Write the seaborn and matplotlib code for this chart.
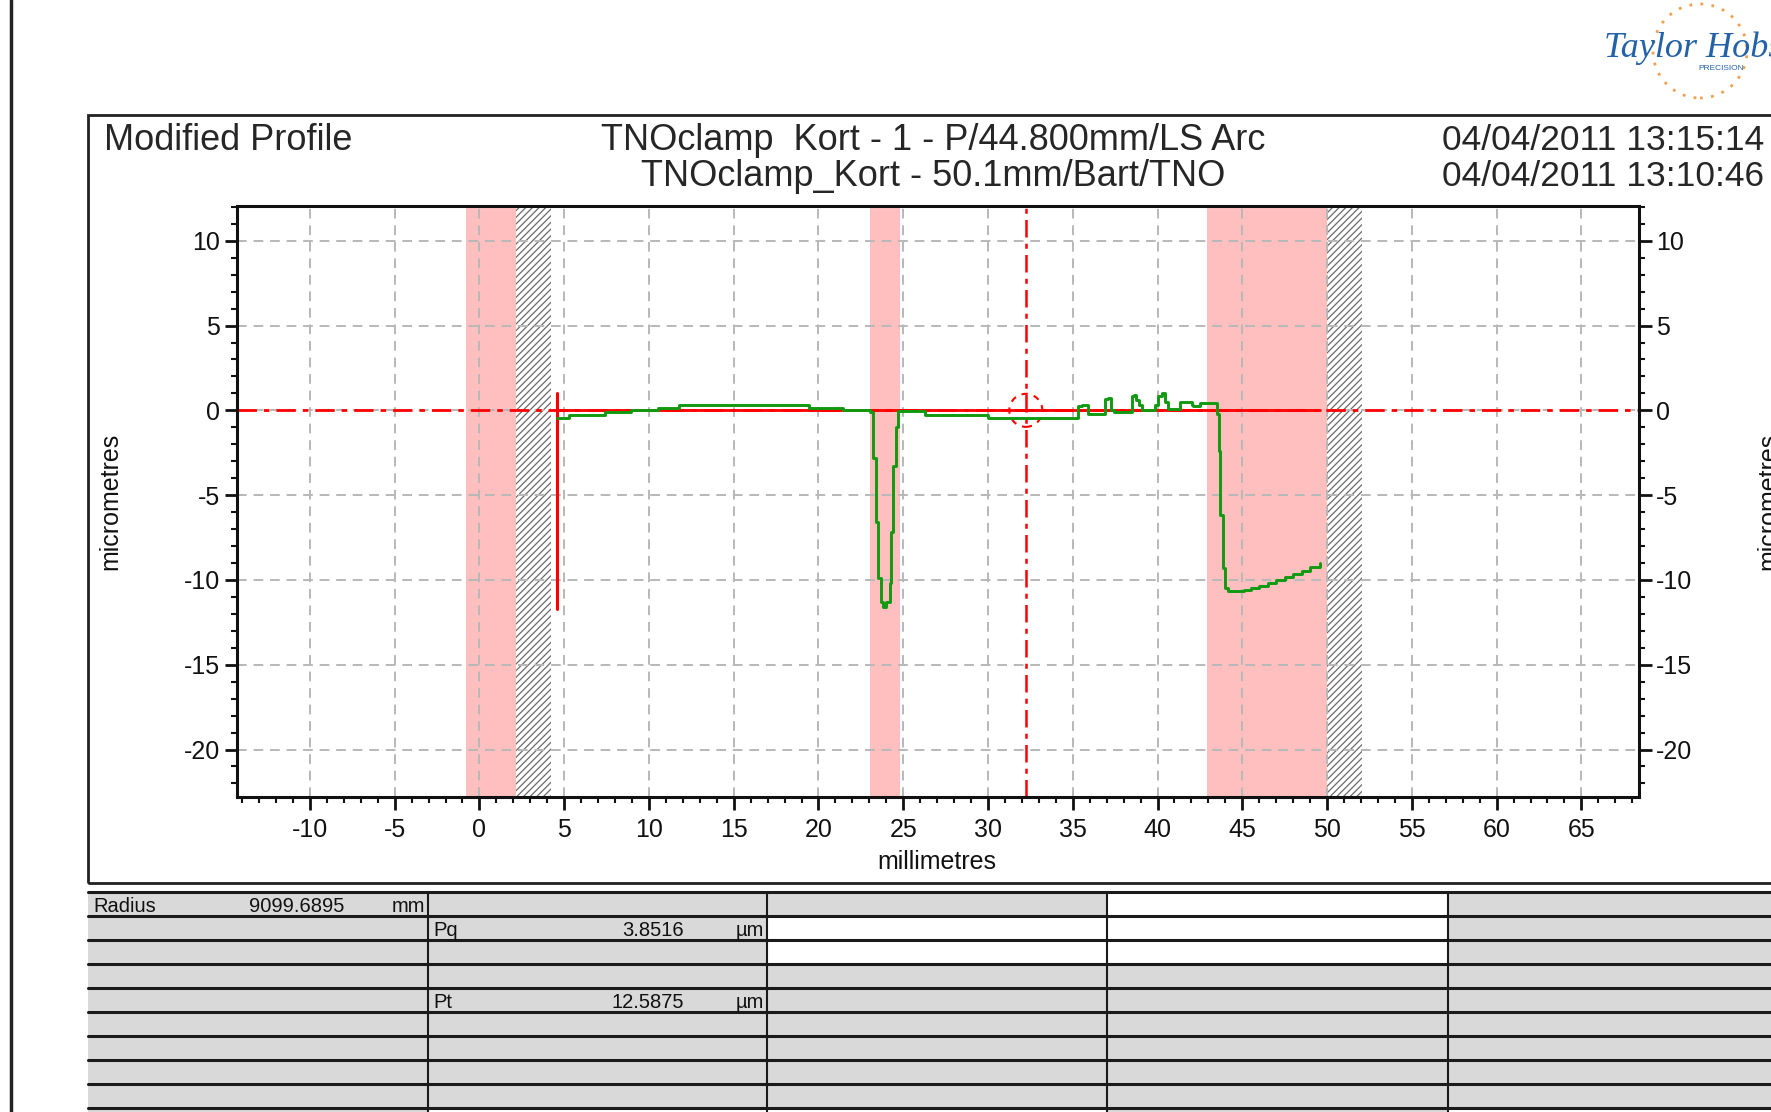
import numpy as np
import matplotlib
matplotlib.use('Agg')
import matplotlib.pyplot as plt
import matplotlib.patches as mpatches
from matplotlib.lines import Line2D
from matplotlib.ticker import MultipleLocator
import seaborn as sns

profile_x = [4.57, 5.27, 7.38, 8.95, 10.53, 11.8, 19.44, 21.45, 23.02, 23.22,
             23.38, 23.51, 23.67, 23.81, 24.0, 24.2, 24.3, 24.4, 24.56, 24.7,
             26.27, 30.0, 35.32, 35.52, 35.91, 36.9, 37.1, 37.23, 37.43, 38.47,
             38.61, 38.73, 38.93, 39.07, 39.86, 40.05, 40.25, 40.45, 40.64, 41.33,
             41.59, 42.02, 42.12, 42.52, 43.5, 43.6, 43.7, 43.86, 44.0, 44.13,
             45.08, 45.5, 46.0, 46.5, 47.0, 47.5, 48.0, 48.5, 49.0, 49.57]
profile_y = [-0.43, -0.27, -0.08, 0.0, 0.14, 0.29, 0.14, 0.0, -0.1, -2.8,
             -6.6, -9.9, -11.3, -11.6, -11.3, -10.2, -7.2, -3.3, -1.0, -0.05,
             -0.27, -0.43, 0.25, 0.32, -0.24, 0.65, 0.72, 0.05, -0.1, 0.84,
             0.88, 0.6, 0.3, 0.0, 0.3, 0.84, 1.0, 0.5, 0.1, 0.5,
             0.5, 0.33, 0.24, 0.42, -0.24, -2.4, -6.2, -9.3, -10.5, -10.65,
             -10.6, -10.5, -10.35, -10.2, -10.0, -9.85, -9.65, -9.45, -9.25, -9.0]

excluded_zones = [(-0.79, 2.17), (23.02, 24.8), (42.94, 49.98)]
hatched_zones = [(2.17, 4.23), (49.98, 52.05)]
fit_start, fit_end = 4.57, 49.6
start_marker = (-11.7, 1.04)
cursor_x = 32.23

title_left = 'Modified Profile'
title_lines = ['TNOclamp  Kort - 1 - P/44.800mm/LS Arc', 'TNOclamp_Kort - 50.1mm/Bart/TNO']
date_lines = ['04/04/2011 13:15:14', '04/04/2011 13:10:46']

param_names = ['Radius', 'Pq', 'Pt']
param_values = ['9099.6895', '3.8516', '12.5875']
param_units = ['mm', 'µm', 'µm']
param_rows = [0, 1, 4]
param_cols = [0, 1, 1]
cell_fill = ['gggwg', 'ggwwg', 'ggwwg', 'ggggg', 'ggggg',
             'ggggg', 'ggggg', 'ggggg', 'ggggg', 'gwwgw']

W, H = 1771, 1112
sns.set_theme(style='white')
plt.rcParams['font.family'] = ['Liberation Sans', 'DejaVu Sans']
plt.rcParams['axes.unicode_minus'] = False
plt.rcParams['hatch.linewidth'] = 0.9

fig = plt.figure(figsize=(W / 100, H / 100), dpi=100)
fig.patch.set_facecolor('white')


def fx(x):
    return x / W


def fy(y):
    return 1 - y / H


# page frame / header box
fig.add_artist(Line2D([fx(11), fx(11)], [0, 1], color='#222222', lw=2.5))
fig.add_artist(mpatches.Rectangle((fx(88), fy(883)), fx(1800) - fx(88), fy(115) - fy(883),
                                  fill=False, edgecolor='#222222', lw=2))

ax = fig.add_axes([fx(237), fy(797), fx(1639) - fx(237), fy(206) - fy(797)])
ax.set_facecolor('white')

for a, b in excluded_zones:
    ax.axvspan(a, b, facecolor='#ffbfbf', edgecolor='none', zorder=1)
for a, b in hatched_zones:
    ax.axvspan(a, b, facecolor='white', edgecolor='#6a6a6a', hatch='/////', lw=0, zorder=1)

ax.set_axisbelow('line')
ax.grid(True, which='major', color='#b8b8b8', linestyle=(0, (5, 3.5)), linewidth=1.4)

# reference line and cursor
ax.axhline(0, color='red', lw=2, linestyle=(0, (7, 2.5, 2, 2.5)), zorder=2)
ax.plot([fit_start, fit_end], [0, 0], color='red', lw=2, zorder=2)
ax.plot([fit_start, fit_start], start_marker, color='red', lw=2.2, zorder=2)
ax.axvline(cursor_x, color='red', lw=1.8, linestyle=(0, (7, 2.5, 2, 2.5)), zorder=2)
ax.add_patch(mpatches.Ellipse((cursor_x, 0), 1.95, 1.95, fill=False, edgecolor='red',
                              lw=1.5, linestyle=(0, (3, 3)), zorder=3))

sns.lineplot(x=profile_x, y=profile_y, ax=ax, color='#109a10', lw=2.1,
             drawstyle='steps-post', estimator=None, sort=False, zorder=4)

ax.set_xlim(-14.3, 68.4)
ax.set_ylim(-22.8, 12.05)
ax.xaxis.set_major_locator(MultipleLocator(5))
ax.xaxis.set_minor_locator(MultipleLocator(1))
ax.yaxis.set_major_locator(MultipleLocator(5))
ax.yaxis.set_minor_locator(MultipleLocator(1))
ax.tick_params(which='major', direction='out', length=9, width=2, labelsize=18,
               colors='#111111', pad=3, left=True, right=True, bottom=True, top=False,
               labelleft=True, labelright=True)
ax.tick_params(which='minor', direction='out', length=4.5, width=1.5, colors='#111111',
               left=True, right=True, bottom=True, top=False)
ax.tick_params(axis='x', which='major', pad=6)
for s in ax.spines.values():
    s.set_visible(True)
    s.set_color('#111111')
    s.set_linewidth(2.2)
ax.set_xlabel('')
ax.set_ylabel('')

fig.text(fx(937), fy(862), 'millimetres', ha='center', va='center', fontsize=18, color='#111111')
fig.text(fx(110), fy(501), 'micrometres', ha='center', va='center', rotation=90,
         fontsize=18, color='#111111')
fig.text(fx(1756), fy(501), 'micrometres', ha='left', va='center', rotation=90,
         fontsize=18, color='#111111')

# header text
fig.text(fx(104), fy(141), title_left, ha='left', va='center', fontsize=26)
for i, t in enumerate(title_lines):
    fig.text(fx(933), fy(141 + 35 * i), t, ha='center', va='center', fontsize=26)
for i, t in enumerate(date_lines):
    fig.text(fx(1442), fy(141 + 35 * i), t, ha='left', va='center', fontsize=25.5)

# logo
fig.add_artist(mpatches.Ellipse((fx(1700), fy(51)), 2 * 47 / W, 2 * 47 / H, fill=False,
                                edgecolor='#f0a050', lw=2, linestyle=(0, (1, 3))))
fig.text(fx(1604), fy(48), 'Taylor Hobson', ha='left', va='center', fontsize=26,
         style='italic', family=['Liberation Serif', 'DejaVu Serif'], color='#2462a8')
fig.text(fx(1698), fy(69), 'PRECISION', ha='left', va='center', fontsize=6, color='#2462a8')

# parameter table
col_edges = [88, 428, 767, 1107, 1448, 1800]
row_top, row_h = 892, 24
for r, row in enumerate(cell_fill):
    for c, f in enumerate(row):
        x0, x1 = col_edges[c], col_edges[c + 1]
        y0 = row_top + r * row_h
        fig.add_artist(mpatches.Rectangle((fx(x0), fy(y0 + row_h)), fx(x1) - fx(x0),
                                          fy(y0) - fy(y0 + row_h),
                                          facecolor='#d9d9d9' if f == 'g' else 'white',
                                          edgecolor='none'))
for r in range(len(cell_fill) + 1):
    y = row_top + r * row_h
    fig.add_artist(Line2D([fx(88), 1], [fy(y), fy(y)], color='#1a1a1a', lw=2.2))
for x in col_edges[1:-1]:
    fig.add_artist(Line2D([fx(x), fx(x)], [fy(row_top), 0], color='#1a1a1a', lw=1.5))

for name, val, unit, r, c in zip(param_names, param_values, param_units, param_rows, param_cols):
    yc = fy(row_top + r * row_h + row_h / 2 + 2)
    x0, x1 = col_edges[c], col_edges[c + 1]
    fig.text(fx(x0 + 5), yc, name, ha='left', va='center', fontsize=14.5, color='#111111')
    fig.text(fx(x0 + 256), yc, val, ha='right', va='center', fontsize=14.5, color='#111111')
    fig.text(fx(x1 - 3), yc, unit, ha='right', va='center', fontsize=14.5, color='#111111')

fig.savefig('out.png', dpi=100)
